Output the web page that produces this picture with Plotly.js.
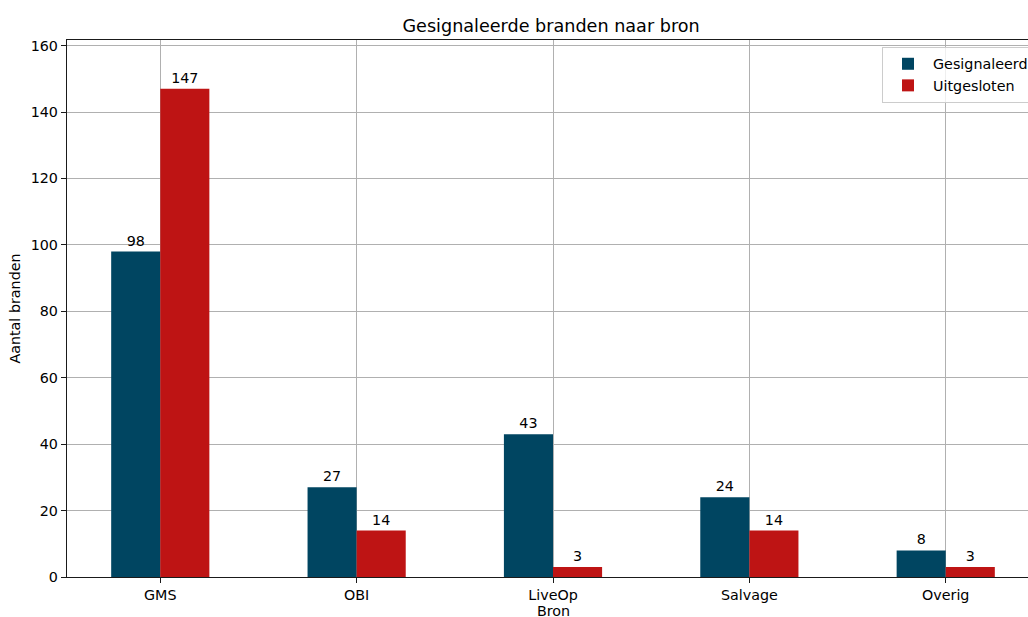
<!DOCTYPE html>
<html><head><meta charset="utf-8">
<script src="https://cdn.plot.ly/plotly-3.0.1.min.js"></script>
<style>html,body{margin:0;padding:0;overflow:hidden;background:#fff;}#chart{width:1045px;height:617px;}</style>
</head><body><div id="chart"></div>
<script>
const categories = ["GMS", "OBI", "LiveOp", "Salvage", "Overig"];
const gesignaleerd = [98, 27, 43, 24, 8];
const uitgesloten = [147, 14, 3, 14, 3];
const yTicks = [0, 20, 40, 60, 80, 100, 120, 140, 160];
const xTitle = "Bron";

const font = {family: "DejaVu Sans", size: 14.3, color: "#000"};
const traces = [
  {type: "bar", name: "Gesignaleerd", x: categories, y: gesignaleerd,
   marker: {color: "#004561"}, text: gesignaleerd.map(String), textposition: "outside",
   textfont: font, cliponaxis: false},
  {type: "bar", name: "Uitgesloten", x: categories, y: uitgesloten,
   marker: {color: "#be1414"}, text: uitgesloten.map(String), textposition: "outside",
   textfont: font, cliponaxis: false}
];
const layout = {
  width: 1045, height: 617,
  margin: {l: 67, r: 6, t: 40, b: 40, pad: 0},
  paper_bgcolor: "#fff", plot_bgcolor: "#fff",
  font: font,
  barmode: "group", bargap: 0.5, bargroupgap: 0,
  title: {text: "Gesignaleerde branden naar bron", font: {family: "DejaVu Sans", size: 17.6, color: "#000"},
          x: 0.498, xref: "paper", y: 1, yref: "paper", yanchor: "bottom", pad: {b: 8}},
  showlegend: true,
  legend: {x: 0.8385, xanchor: "left", y: 0.987, yanchor: "top", bgcolor: "rgba(255,255,255,0.8)",
           bordercolor: "#cccccc", borderwidth: 1, font: font, traceorder: "normal", itemwidth: 40},
  annotations: [{text: xTitle, xref: "paper", yref: "paper", x: 0.5, y: -0.064, xanchor: "center",
                 yanchor: "middle", showarrow: false, font: font}],
  xaxis: {type: "category", range: [-0.475, 4.475], showgrid: true, gridcolor: "#b0b0b0", gridwidth: 1,
          showline: true, linecolor: "#1a1a1a", linewidth: 1.2, mirror: true,
          ticks: "outside", ticklen: 5, tickcolor: "#1a1a1a", tickfont: font, zeroline: false},
  yaxis: {range: [0, 161.7], tickvals: yTicks, ticktext: yTicks.map(String), showgrid: true,
          gridcolor: "#b0b0b0", gridwidth: 1, showline: true, linecolor: "#1a1a1a", linewidth: 1.2,
          mirror: true, ticks: "outside", ticklen: 5, tickcolor: "#1a1a1a", tickfont: font,
          title: {text: "Aantal branden", font: font, standoff: 6}, zeroline: false}
};
Plotly.newPlot("chart", traces, layout, {displayModeBar: false, staticPlot: true});
</script></body></html>
